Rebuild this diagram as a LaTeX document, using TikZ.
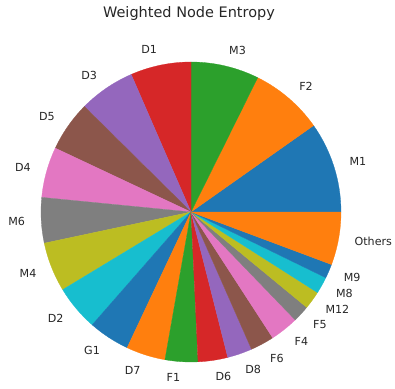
\documentclass[tikz,border=0pt]{standalone}
\usepackage{fontspec}
\setmainfont{DejaVu Sans}

\definecolor{c0}{HTML}{1F77B4}
\definecolor{c1}{HTML}{FF7F0E}
\definecolor{c2}{HTML}{2CA02C}
\definecolor{c3}{HTML}{D62728}
\definecolor{c4}{HTML}{9467BD}
\definecolor{c5}{HTML}{8C564B}
\definecolor{c6}{HTML}{E377C2}
\definecolor{c7}{HTML}{7F7F7F}
\definecolor{c8}{HTML}{BCBD22}
\definecolor{c9}{HTML}{17BECF}

\begin{document}
\begin{tikzpicture}

\def\r{3.75}
\def\rl{4.15}

\useasboundingbox (-4.775,-4.4) rectangle (5.1,5.3);

\node[text=black!85, font=\fontsize{10.3}{12}\selectfont] (title) at (-0.05,4.95) {Weighted Node Entropy};

\foreach \name/\a/\b/\col/\anc in {
    M1/0/35.2/c0/west, F2/35.2/63.6/c1/west, M3/63.6/90/c2/west,
    D1/90/113.5/c3/east, D3/113.5/135.3/c4/east, D5/135.3/154.8/c5/east,
    D4/154.8/174.4/c6/east, M6/174.4/192/c7/east, M4/192/211.2/c8/east,
    D2/211.2/228.8/c9/east, G1/228.8/244.8/c0/east, D7/244.8/260/c1/east,
    F1/260/272.7/c2/east, D6/272.7/284.2/c3/west, D8/284.2/293.8/c4/west,
    F6/293.8/303/c5/west, F4/303/314/c6/west, F5/314/320.5/c7/west,
    M12/320.5/327.5/c8/west, M8/327.5/334/c9/west, M9/334/339.5/c0/west,
    Others/339.5/360/c1/west} {
    \fill[\col, draw=\col, line width=0.2pt] (0,0) -- (\a:\r)
        arc[start angle=\a, end angle=\b, radius=\r] -- cycle;
    \pgfmathsetmacro{\m}{(\a+\b)/2}
    \node[anchor=\anc, inner sep=0pt, text=black!85,
          font=\fontsize{7.9}{9.5}\selectfont] (l\name) at (\m:\rl) {\name};
}

\end{tikzpicture}
\end{document}
